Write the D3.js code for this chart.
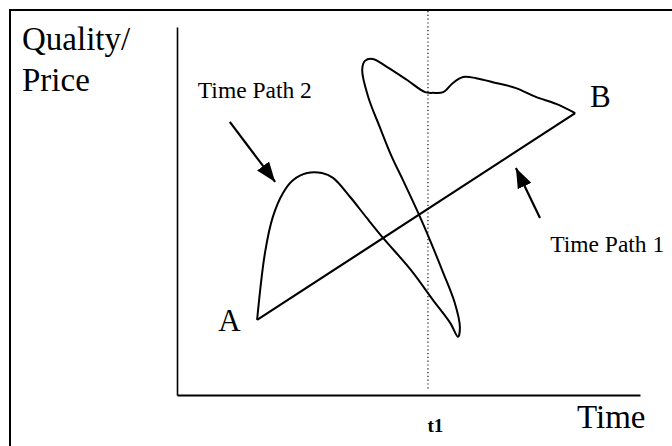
<!DOCTYPE html>
<html>
<head>
<meta charset="utf-8">
<script src="https://cdn.jsdelivr.net/npm/d3@7"></script>
<style>
  body { margin: 0; background: #fff; }
  svg text { font-family: "Liberation Serif", "Times New Roman", serif; fill: #000; }
</style>
</head>
<body>
<svg id="chart"></svg>
<script>
// path values (time 0-100, quality/price 0-100)
var path1 = [[17.3, 20.4], [86.0, 76.6]];

var path2 = [
  [17.3, 20.4], [19.0, 38.6], [20.7, 48.4], [22.9, 54.9], [25.1, 58.4], [28.1, 60.3],
  [31.3, 60.3], [33.7, 59.0], [37.4, 53.8], [41.0, 48.1], [44.5, 42.7], [50.5, 34.0],
  [55.3, 25.8], [59.0, 19.6], [60.7, 15.8], [61.1, 18.5], [60.0, 25.0], [57.5, 33.2],
  [54.0, 44.0], [51.8, 50.3], [48.8, 58.4], [46.4, 64.7], [43.8, 72.8], [41.3, 81.0],
  [40.0, 88.3], [40.6, 90.8], [42.3, 91.3], [45.4, 89.1], [49.7, 85.6], [53.6, 82.3],
  [55.3, 82.1], [57.5, 82.3], [59.6, 84.8], [61.8, 86.4], [64.6, 86.1], [68.9, 84.8],
  [73.2, 83.4], [77.5, 81.0], [81.9, 79.1], [86.0, 76.6]
];

var t1 = 54.2;
var tickLabels = ["t1"];

// annotations: [label, x, y] and arrows [tail, tip]
var pointLabels = [["A", 8.9, 17.4], ["B", 89.2, 78.3]];
var pathLabels = [["Time Path 2", 4.5, 80.7], ["Time Path 1", 80.6, 38.9]];
var arrows = [[[11.4, 74.2], [21.2, 57.9]], [[78.4, 48.1], [73.2, 61.7]]];

var W = 672, H = 446;
var margin = {top: 27, right: 32, bottom: 51, left: 177};

var svg = d3.select("#chart").attr("width", W).attr("height", H);

var x = d3.scaleLinear().domain([0, 100]).range([margin.left, W - margin.right]);
var y = d3.scaleLinear().domain([0, 100]).range([H - margin.bottom, margin.top]);

// outer frame (only top and left edges show)
svg.append("line").attr("x1", 9).attr("y1", 10).attr("x2", W).attr("y2", 10)
  .attr("stroke", "#000").attr("stroke-width", 2);
svg.append("line").attr("x1", 10).attr("y1", 9).attr("x2", 10).attr("y2", H)
  .attr("stroke", "#000").attr("stroke-width", 2);

// dotted t1 line
svg.append("line")
  .attr("x1", x(t1)).attr("y1", 11)
  .attr("x2", x(t1)).attr("y2", y(0) - 6)
  .attr("stroke", "#222").attr("stroke-width", 1.3)
  .attr("stroke-dasharray", "1.2,2.6");

// axes
var xAxis = svg.append("g")
  .attr("transform", "translate(0," + y(0) + ")")
  .call(d3.axisBottom(x).tickValues([t1]).tickFormat(function(d, i) { return tickLabels[i]; })
    .tickSize(0).tickSizeOuter(0).tickPadding(24));
xAxis.select(".domain").attr("stroke", "#000").attr("stroke-width", 1.8);
xAxis.selectAll("text")
  .attr("text-anchor", "start").attr("dx", -1)
  .style("font-family", "Liberation Serif").style("font-size", "19px").style("font-weight", "bold");

var yAxis = svg.append("g")
  .attr("transform", "translate(" + x(0) + ",0)")
  .call(d3.axisLeft(y).tickValues([]).tickSizeOuter(0));
yAxis.select(".domain").attr("stroke", "#000").attr("stroke-width", 1.6);

// axis titles
svg.append("text").attr("x", 22).attr("y", 50).style("font-size", "33px").text("Quality/");
svg.append("text").attr("x", 22).attr("y", 91).style("font-size", "33px").text("Price");
svg.append("text").attr("x", 577).attr("y", 428).style("font-size", "33px").text("Time");

var line = d3.line().x(function(d) { return x(d[0]); }).y(function(d) { return y(d[1]); });

// Time Path 1
svg.append("path").datum(path1)
  .attr("d", line)
  .attr("fill", "none").attr("stroke", "#000").attr("stroke-width", 2.2);

// Time Path 2
svg.append("path").datum(path2)
  .attr("d", line.curve(d3.curveCatmullRom.alpha(0.5)))
  .attr("fill", "none").attr("stroke", "#000").attr("stroke-width", 2)
  .attr("stroke-linejoin", "round");

// point labels
svg.selectAll(".pt").data(pointLabels).enter().append("text")
  .attr("class", "pt")
  .attr("x", function(d) { return x(d[1]); })
  .attr("y", function(d) { return y(d[2]); })
  .style("font-size", "31px")
  .text(function(d) { return d[0]; });

svg.selectAll(".pl").data(pathLabels).enter().append("text")
  .attr("class", "pl")
  .attr("x", function(d) { return x(d[1]); })
  .attr("y", function(d) { return y(d[2]); })
  .style("font-size", "23.5px")
  .text(function(d) { return d[0]; });

// arrows
svg.append("defs").append("marker")
  .attr("id", "head")
  .attr("viewBox", "0 0 20 15")
  .attr("refX", 20).attr("refY", 7.5)
  .attr("markerWidth", 20).attr("markerHeight", 15)
  .attr("markerUnits", "userSpaceOnUse")
  .attr("orient", "auto")
  .append("path").attr("d", "M0,0L20,7.5L0,15Z").attr("fill", "#000");

svg.selectAll(".arrow").data(arrows).enter().append("line")
  .attr("class", "arrow")
  .attr("x1", function(d) { return x(d[0][0]); })
  .attr("y1", function(d) { return y(d[0][1]); })
  .attr("x2", function(d) { return x(d[1][0]); })
  .attr("y2", function(d) { return y(d[1][1]); })
  .attr("stroke", "#000").attr("stroke-width", 2.2)
  .attr("marker-end", "url(#head)");
</script>
</body>
</html>
